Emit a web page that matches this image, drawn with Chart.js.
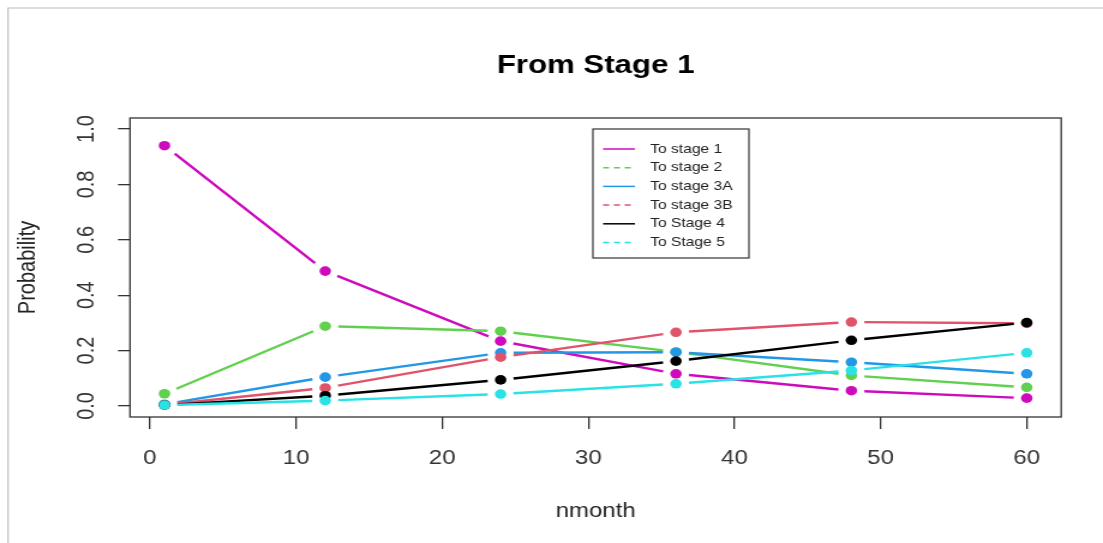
<!DOCTYPE html>
<html>
<head>
<meta charset="utf-8">
<script src="https://cdn.jsdelivr.net/npm/chart.js@4/dist/chart.umd.min.js"></script>
<style>
  html, body { margin: 0; padding: 0; background: #fff; }
</style>
</head>
<body>
<canvas id="chart" width="919" height="543" style="display:block;width:1103px;height:543px"></canvas>
<script>
// values
const months = [1, 12, 24, 36, 48, 60];
const toStage1 = [0.940, 0.487, 0.234, 0.116, 0.055, 0.028];
const toStage2 = [0.044, 0.288, 0.270, 0.195, 0.110, 0.067];
const toStage3A = [0.006, 0.104, 0.192, 0.194, 0.158, 0.116];
const toStage3B = [0.004, 0.065, 0.176, 0.266, 0.303, 0.298];
const toStage4 = [0.003, 0.037, 0.094, 0.162, 0.237, 0.301];
const toStage5 = [0.003, 0.019, 0.043, 0.080, 0.128, 0.192];

const seriesNames = ['To stage 1', 'To stage 2', 'To stage 3A', 'To stage 3B', 'To Stage 4', 'To Stage 5'];
const seriesValues = [toStage1, toStage2, toStage3A, toStage3B, toStage4, toStage5];
const seriesColors = ['#CD0BBC', '#61D04F', '#2297E6', '#DF536B', '#000000', '#28E2E5'];
const legendDashed = [false, true, false, true, false, true];

const xTicks = [0, 10, 20, 30, 40, 50, 60];
const yTicks = [0, 0.2, 0.4, 0.6, 0.8, 1.0];

const STRETCH = 1103 / 919;   // canvas is shown wider than it is drawn
const GAP = 13;               // gap round each point, like R type="b"

// line pieces with gaps, drawn just before each series' points
const gappedLines = {
  id: 'gappedLines',
  beforeDatasetDraw(chart, args) {
    const ds = chart.data.datasets[args.index];
    const pts = args.meta.data;
    const ctx = chart.ctx;
    ctx.save();
    ctx.strokeStyle = ds.borderColor;
    ctx.lineWidth = 2.4;
    for (let i = 0; i < pts.length - 1; i++) {
      const a = pts[i], b = pts[i + 1];
      const len = Math.hypot((b.x - a.x) * STRETCH, b.y - a.y);
      const t = GAP / len;
      if (t >= 0.5) continue;
      ctx.beginPath();
      ctx.moveTo(a.x + (b.x - a.x) * t, a.y + (b.y - a.y) * t);
      ctx.lineTo(b.x - (b.x - a.x) * t, b.y - (b.y - a.y) * t);
      ctx.stroke();
    }
    ctx.restore();
  }
};

// plot box, page frame, rotated y labels and the boxed legend
const decorations = {
  id: 'decorations',
  afterDraw(chart) {
    const ctx = chart.ctx;
    const area = chart.chartArea;
    const yScale = chart.scales.y;
    ctx.save();

    ctx.strokeStyle = '#bdbdbd';
    ctx.lineWidth = 1.2;
    ctx.beginPath();
    ctx.moveTo(6.7, chart.height);
    ctx.lineTo(6.7, 8);
    ctx.lineTo(chart.width, 8);
    ctx.stroke();

    ctx.strokeStyle = '#333';
    ctx.lineWidth = 1.3;
    ctx.strokeRect(area.left, area.top, area.right - area.left, area.bottom - area.top);

    ctx.fillStyle = '#333';
    ctx.font = '20px "Liberation Sans", Arial, sans-serif';
    ctx.textAlign = 'center';
    ctx.textBaseline = 'middle';
    yTicks.forEach(v => {
      ctx.save();
      ctx.translate(72.5, yScale.getPixelForValue(v));
      ctx.rotate(-Math.PI / 2);
      ctx.fillText(v.toFixed(1), 0, 0);
      ctx.restore();
    });

    // legend
    const lx = 494, ly = 129, lw = 130, lh = 129;
    ctx.fillStyle = '#fff';
    ctx.fillRect(lx, ly, lw, lh);
    ctx.strokeStyle = '#333';
    ctx.lineWidth = 1.2;
    ctx.strokeRect(lx, ly, lw, lh);
    ctx.font = '13px "Liberation Sans", Arial, sans-serif';
    ctx.textAlign = 'left';
    seriesNames.forEach((name, i) => {
      const y = ly + 20 + i * 18.7;
      ctx.strokeStyle = seriesColors[i];
      ctx.lineWidth = 1.5;
      ctx.setLineDash(legendDashed[i] ? [5, 4] : []);
      ctx.beginPath();
      ctx.moveTo(lx + 8.5, y);
      ctx.lineTo(lx + 35, y);
      ctx.stroke();
      ctx.setLineDash([]);
      ctx.fillStyle = '#222';
      ctx.fillText(name, lx + 47.7, y);
    });
    ctx.restore();
  }
};

const datasets = seriesValues.map((vals, i) => ({
  label: seriesNames[i],
  data: months.map((m, j) => ({ x: m, y: vals[j] })),
  borderColor: seriesColors[i],
  backgroundColor: seriesColors[i],
  showLine: false,
  pointRadius: 4.8,
  pointBorderWidth: 0,
  order: seriesValues.length - i
}));

const ctx = document.getElementById('chart').getContext('2d');
const chart = new Chart(ctx, {
  type: 'scatter',
  data: { datasets: datasets },
  options: {
    responsive: false,
    animation: false,
    layout: { padding: { left: 0, right: 34.8, top: 0, bottom: 0 } },
    plugins: {
      legend: { display: false },
      tooltip: { enabled: false },
      title: {
        display: true,
        text: 'From Stage 1',
        fullSize: false,
        color: '#000',
        font: { family: '"Liberation Sans", Arial, sans-serif', size: 26, weight: 'bold' },
        padding: { top: 50.4, bottom: 36.4 }
      }
    },
    scales: {
      x: {
        type: 'linear',
        min: -1.36,
        max: 62.36,
        afterBuildTicks: s => { s.ticks = xTicks.map(v => ({ value: v })); },
        afterFit: s => { s.height = 126; },
        border: { display: false },
        grid: { drawOnChartArea: false, drawTicks: true, tickLength: 12, color: '#333', lineWidth: 1.3 },
        ticks: { color: '#333', padding: 17, font: { family: '"Liberation Sans", Arial, sans-serif', size: 20 } },
        title: {
          display: true,
          text: 'nmonth',
          color: '#222',
          font: { family: '"Liberation Sans", Arial, sans-serif', size: 20 },
          padding: { top: 0, bottom: 20 }
        }
      },
      y: {
        type: 'linear',
        min: -0.04,
        max: 1.04,
        afterBuildTicks: s => { s.ticks = yTicks.map(v => ({ value: v })); },
        afterFit: s => { s.width = 108.3; },
        border: { display: false },
        grid: { drawOnChartArea: false, drawTicks: true, tickLength: 10, color: '#333', lineWidth: 1.3 },
        ticks: { display: false },
        title: {
          display: true,
          text: 'Probability',
          color: '#222',
          font: { family: '"Liberation Sans", Arial, sans-serif', size: 20 },
          padding: { top: 11, bottom: 0 }
        }
      }
    }
  },
  plugins: [gappedLines, decorations]
});
</script>
</body>
</html>
